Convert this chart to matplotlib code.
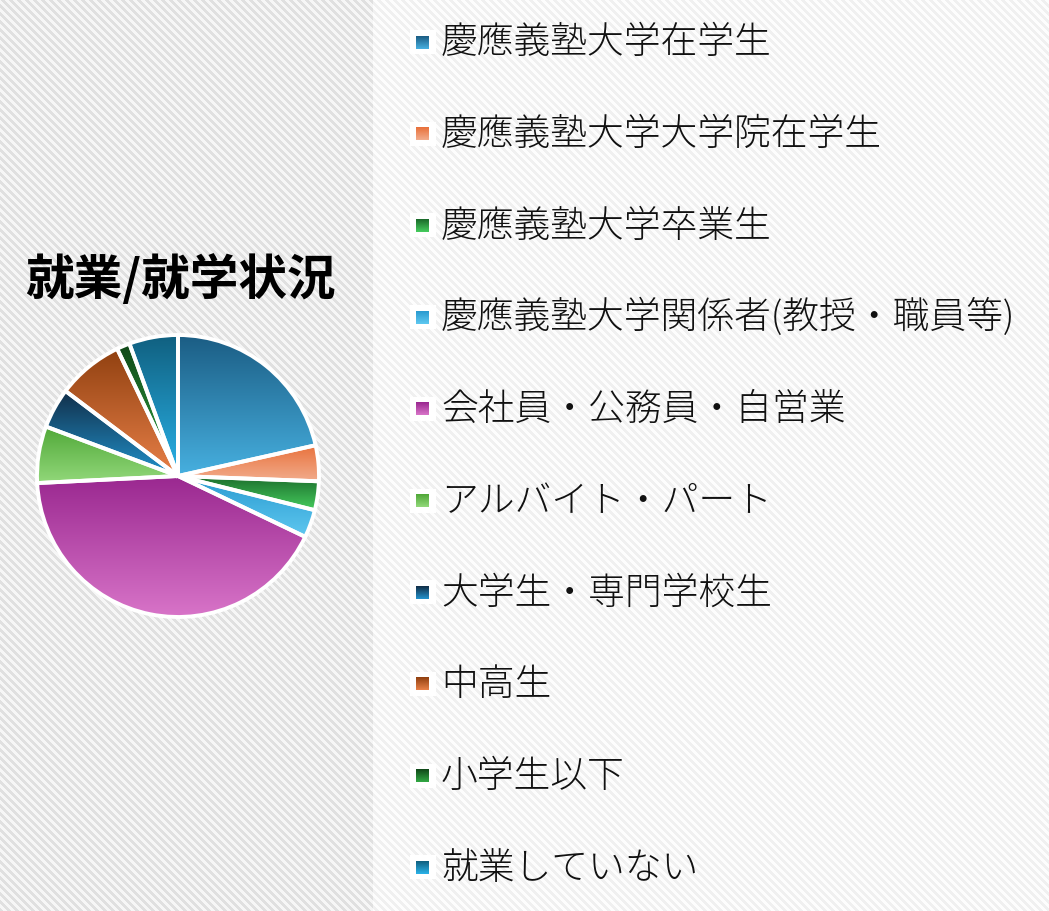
import matplotlib
matplotlib.use("Agg")
import matplotlib.pyplot as plt
from matplotlib.colors import to_rgb
from matplotlib.patches import Rectangle
import numpy as np

plt.rcParams['font.family'] = ['Noto Sans CJK JP', 'DejaVu Sans']

####################
# DATA
####################
title = "就業/就学状況"

labels = [
    "慶應義塾大学在学生",
    "慶應義塾大学大学院在学生",
    "慶應義塾大学卒業生",
    "慶應義塾大学関係者(教授・職員等)",
    "会社員・公務員・自営業",
    "アルバイト・パート",
    "大学生・専門学校生",
    "中高生",
    "小学生以下",
    "就業していない",
]

values = [21.5, 4.1, 3.3, 3.2, 42.1, 6.5, 4.6, 7.6, 1.5, 5.6]

top_colors = ["#1b5d84", "#e8703a", "#1a6a2a", "#2a9ad0", "#9a2890",
              "#50a838", "#112e48", "#904010", "#104818", "#106080"]
bottom_colors = ["#47b0e0", "#f2ac8c", "#46cc5e", "#5ec8f0", "#d874c8",
                 "#92d87a", "#2292cc", "#e88048", "#32a844", "#2ab2e8"]

W, H = 1049, 912
fig = plt.figure(figsize=(W / 100, H / 100), dpi=100)


def gradient(top, bottom, n=128):
    t = np.linspace(0, 1, n)[:, None]
    c0 = np.array(to_rgb(top))
    c1 = np.array(to_rgb(bottom))
    return (c0 * (1 - t) + c1 * t)[:, None, :]


# -----------------------
# STRIPED BACKGROUND
# -----------------------
yy, xx = np.mgrid[0:H, 0:W]
stripe = ((xx - yy) // 4) % 2 == 0
bg = np.ones((H, W, 3))
left = xx < 373
bg[left & stripe] = to_rgb("#e0e0e0")
bg[left & ~stripe] = to_rgb("#f6f6f6")
bg[~left & stripe] = to_rgb("#f0f0f0")
bg[~left & ~stripe] = to_rgb("#fdfdfd")

bax = fig.add_axes([0, 0, 1, 1])
bax.imshow(bg, aspect="auto", interpolation="nearest")
bax.axis("off")

# -----------------------
# PIE
# -----------------------
cx, cy, half = 178, 477, 150
pax = fig.add_axes([(cx - half) / W, (H - cy - half) / H, 2 * half / W, 2 * half / H])
pax.patch.set_alpha(0)

wedges, _ = pax.pie(values, startangle=90, counterclock=False, radius=1.0,
                    wedgeprops=dict(facecolor="none", edgecolor="white",
                                    linewidth=2.8, zorder=3))

for w, c0, c1 in zip(wedges, top_colors, bottom_colors):
    ext = w.get_path().get_extents()
    im = pax.imshow(gradient(c0, c1), extent=(ext.x0, ext.x1, ext.y0, ext.y1),
                    origin="upper", aspect="auto", zorder=1, interpolation="bilinear")
    im.set_clip_path(w)

lim = half / 141
pax.set_xlim(-lim, lim)
pax.set_ylim(-lim, lim)
pax.set_aspect("equal")
pax.axis("off")

fig.text(180 / W, 1 - 280 / H, title, fontsize=35, fontweight="bold",
         ha="center", va="center", color="black")

# -----------------------
# LEGEND
# -----------------------
lax = fig.add_axes([0, 0, 1, 1])
lax.patch.set_alpha(0)
lax.set_xlim(0, W)
lax.set_ylim(H, 0)
lax.axis("off")

for i, (lab, c0, c1) in enumerate(zip(labels, top_colors, bottom_colors)):
    y = 43 + 91.7 * i
    lax.add_patch(Rectangle((410, y - 12), 26, 24, facecolor="white",
                            edgecolor="none", zorder=1))
    lax.imshow(gradient(c0, c1, 32), extent=(416, 429, y + 6.5, y - 6.5),
               aspect="auto", zorder=2, interpolation="bilinear")
    lax.text(441, y, lab, fontsize=26.5, ha="left", va="center",
             color="#111111", fontweight="light")

lax.set_xlim(0, W)
lax.set_ylim(H, 0)

fig.savefig("out.png", dpi=100)
